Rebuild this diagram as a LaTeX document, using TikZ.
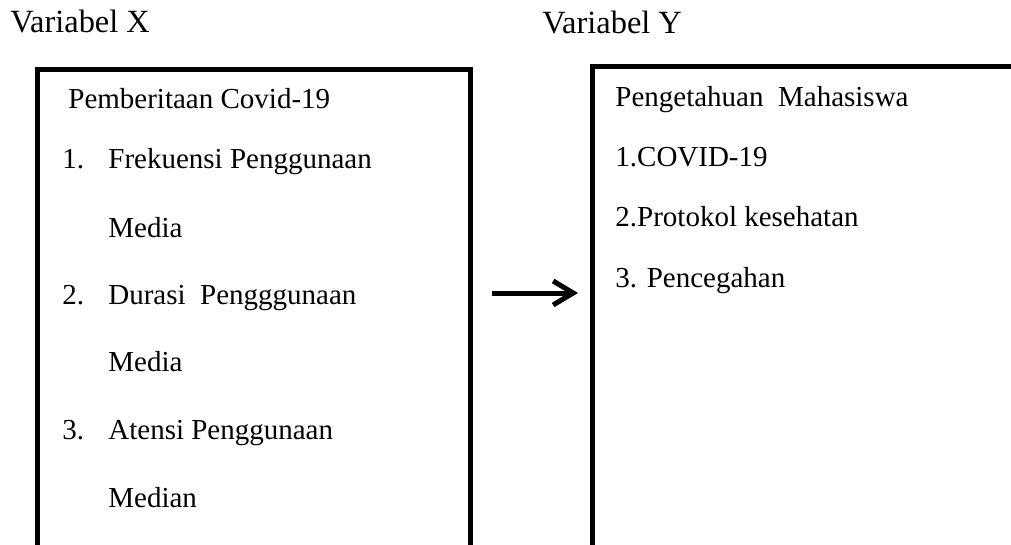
\documentclass[tikz,border=0pt]{standalone}
\usepackage{fontspec}
\setmainfont{Liberation Serif}
\usetikzlibrary{arrows.meta, positioning}

\begin{document}
\begin{tikzpicture}[
    x=0.5pt, y=-0.5pt,
    frame/.style={line width=2.5pt, line join=miter},
    txt/.style={anchor=base west, inner sep=0pt, font=\fontsize{14.5}{17}\selectfont},
    title/.style={anchor=base west, inner sep=0pt, font=\fontsize{16.2}{19}\selectfont},
    arrowline/.style={line width=2.5pt, -{Straight Barb[length=10pt, width=12pt]}}
]

% === 画布 ===
\useasboundingbox (0,0) rectangle (1011,545);
\clip (0,0) rectangle (1011,545);

% === 标题 ===
\node[title] (varX) at (10,33) {Variabel X};
\node[title] (varY) at (542,34) {Variabel Y};

% === 左框（下端截断）===
\draw[frame] (37,620) -- (37,70) -- (470,70) -- (470,620);

% === 右框（右端与下端截断）===
\draw[frame] (592,620) -- (592,67) -- (1040,67);

% === 左框文字 ===
\node[txt] (pemberitaan) at (68,109) {Pemberitaan Covid-19};
\node[txt] (num1) at (62,169) {1.};
\node[txt] (frekuensi) at (108,169) {Frekuensi Penggunaan};
\node[txt] (mediaA) at (108,237) {Media};
\node[txt] (num2) at (62,304) {2.};
\node[txt] (durasi) at (108,304) {Durasi\ \ Pengggunaan};
\node[txt] (mediaB) at (108,371) {Media};
\node[txt] (num3) at (62,439) {3.};
\node[txt] (atensi) at (108,439) {Atensi Penggunaan};
\node[txt] (median) at (108,507) {Median};

% === 右框文字 ===
\node[txt] (pengetahuan) at (615,107) {Pengetahuan\ \ Mahasiswa};
\node[txt] (covid) at (615,167) {1.COVID-19};
\node[txt] (protokol) at (615,227) {2.Protokol kesehatan};
\node[txt] (pencegahan) at (615,287) {3. Pencegahan};

% === 箭头 X -> Y ===
\coordinate (arrS) at (492,293);
\coordinate (arrE) at (578,293);
\draw[arrowline] (arrS) -- (arrE);

\end{tikzpicture}
\end{document}
